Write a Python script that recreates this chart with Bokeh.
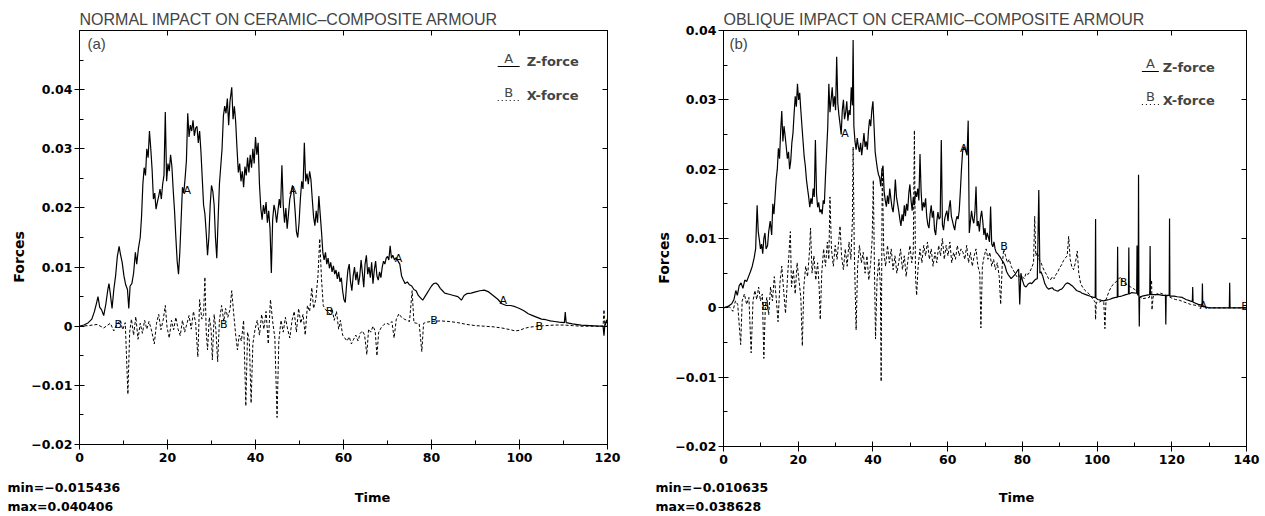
import numpy as np
from bokeh.plotting import figure
from bokeh.layouts import row, column
from bokeh.models import Range1d, LinearAxis, FixedTicker, Label
from bokeh.embed import file_html
from bokeh.resources import INLINE
from bokeh.core.properties import value

# ---------------- data ----------------
titles = ["NORMAL IMPACT ON CERAMIC–COMPOSITE ARMOUR", "OBLIQUE IMPACT ON CERAMIC–COMPOSITE ARMOUR"]
tags = ["(a)", "(b)"]
series_names = ["Z-force", "X-force"]
series_letters = ["A", "B"]
x_title = "Time"
y_title = "Forces"

x_ticks_a = [0, 20, 40, 60, 80, 100, 120]
x_minor_a = [10, 30, 50, 70, 90, 110]
x_ticks_b = [0, 20, 40, 60, 80, 100, 120, 140]
x_minor_b = [10, 30, 50, 70, 90, 110, 130]
y_ticks = [-0.02, -0.01, 0, 0.01, 0.02, 0.03, 0.04]
y_tick_labels = ["−0.02", "−0.01", "0", "0.01", "0.02", "0.03", "0.04"]
y_minor_a = [-0.015, -0.005, 0.005, 0.015, 0.025, 0.035, 0.045]
y_minor_b = [-0.015, -0.005, 0.005, 0.015, 0.025, 0.035]

# (a) normal impact: Z-force (A)
a_z = [
    (0, 0), (1.0, 0.0002), (2.0, 0.0006), (2.8, 0.0012), (3.4, 0.0025), (3.9, 0.0040), (4.2, 0.0050),
    (4.6, 0.0032), (5.0, 0.0028), (5.5, 0.0018), (6.0, 0.0038), (6.4, 0.0060), (6.7, 0.0072), (7.0, 0.0055),
    (7.4, 0.0030), (7.8, 0.0062), (8.2, 0.0085), (8.6, 0.0118), (9.0, 0.0135), (9.3, 0.0122), (9.7, 0.0108),
    (10.1, 0.0085), (10.5, 0.0070), (10.9, 0.0062), (11.2, 0.0030), (11.5, 0.0068), (11.9, 0.0072),
    (12.3, 0.0090), (12.7, 0.0125), (13.0, 0.0105), (13.4, 0.0132), (13.8, 0.0150), (14.1, 0.0185),
    (14.4, 0.0240), (14.7, 0.0268), (15.0, 0.0255), (15.3, 0.0300), (15.6, 0.0285), (15.9, 0.0330),
    (16.2, 0.0300), (16.5, 0.0265), (16.8, 0.0215), (17.1, 0.0225), (17.4, 0.0198), (17.7, 0.0210),
    (18.0, 0.0220), (18.3, 0.0232), (18.6, 0.0215), (18.9, 0.0240), (19.2, 0.0255), (19.5, 0.0362),
    (19.8, 0.0245), (20.1, 0.0275), (20.4, 0.0262), (20.7, 0.0290), (21.0, 0.0270), (21.3, 0.0230),
    (21.6, 0.0195), (21.9, 0.0150), (22.2, 0.0110), (22.5, 0.0088), (22.8, 0.0125), (23.1, 0.0180),
    (23.4, 0.0235), (23.7, 0.0225), (24.0, 0.0250), (24.3, 0.0280), (24.6, 0.0360), (24.9, 0.0320),
    (25.2, 0.0340), (25.5, 0.0330), (25.8, 0.0348), (26.1, 0.0322), (26.4, 0.0335), (26.7, 0.0338),
    (27.0, 0.0310), (27.3, 0.0330), (27.6, 0.0295), (27.9, 0.0250), (28.2, 0.0205), (28.5, 0.0190),
    (28.8, 0.0158), (29.1, 0.0120), (29.4, 0.0150), (29.7, 0.0205), (30.0, 0.0238), (30.3, 0.0228),
    (30.6, 0.0205), (30.9, 0.0150), (31.2, 0.0115), (31.5, 0.0180), (31.8, 0.0240), (32.1, 0.0270),
    (32.4, 0.0300), (32.7, 0.0355), (33.0, 0.0372), (33.3, 0.0360), (33.6, 0.0385), (33.9, 0.0340),
    (34.2, 0.0380), (34.6, 0.040406), (34.9, 0.0350), (35.2, 0.0372), (35.5, 0.0345), (35.8, 0.0300),
    (36.1, 0.0260), (36.4, 0.0275), (36.7, 0.0245), (37.0, 0.0262), (37.3, 0.0235), (37.6, 0.0270),
    (37.9, 0.0255), (38.2, 0.0285), (38.5, 0.0260), (38.8, 0.0290), (39.1, 0.0268), (39.4, 0.0300),
    (39.7, 0.0275), (40.0, 0.0320), (40.3, 0.0290), (40.6, 0.0310), (40.9, 0.0240), (41.2, 0.0200),
    (41.5, 0.0180), (41.8, 0.0205), (42.1, 0.0190), (42.4, 0.0210), (42.7, 0.0175), (43.0, 0.0195),
    (43.3, 0.0165), (43.6, 0.0090), (43.9, 0.0180), (44.2, 0.0205), (44.5, 0.0195), (44.8, 0.0175),
    (45.1, 0.0195), (45.4, 0.0215), (45.7, 0.0200), (46.0, 0.0272), (46.3, 0.0205), (46.6, 0.0175),
    (46.9, 0.0200), (47.2, 0.0165), (47.5, 0.0190), (47.8, 0.0215), (48.1, 0.0225), (48.4, 0.0238),
    (48.7, 0.0225), (49.0, 0.0195), (49.3, 0.0160), (49.6, 0.0150), (49.9, 0.0175), (50.2, 0.0215),
    (50.5, 0.0245), (50.8, 0.0232), (51.1, 0.0310), (51.4, 0.0245), (51.7, 0.0258), (52.0, 0.0240),
    (52.3, 0.0262), (52.6, 0.0248), (52.9, 0.0215), (53.2, 0.0185), (53.5, 0.0170), (53.8, 0.0195),
    (54.1, 0.0175), (54.4, 0.0220), (54.7, 0.0190), (55.0, 0.0160), (55.3, 0.0125), (55.6, 0.0112),
    (55.9, 0.0125), (56.2, 0.0105), (56.5, 0.0115), (56.8, 0.0098), (57.1, 0.0108), (57.4, 0.0092),
    (57.7, 0.0102), (58.0, 0.0088), (58.3, 0.0095), (58.6, 0.0080), (58.9, 0.0092), (59.2, 0.0075),
    (59.5, 0.0082), (59.8, 0.0060), (60.1, 0.0045), (60.4, 0.0040), (60.7, 0.0070), (61.0, 0.0095),
    (61.3, 0.0105), (61.6, 0.0075), (61.9, 0.0060), (62.2, 0.0085), (62.5, 0.0100), (62.8, 0.0078),
    (63.1, 0.0092), (63.4, 0.0070), (63.7, 0.0085), (64.0, 0.0112), (64.3, 0.0090), (64.6, 0.0066),
    (64.9, 0.0105), (65.2, 0.0120), (65.5, 0.0088), (65.8, 0.0100), (66.1, 0.0082), (66.4, 0.0108),
    (66.7, 0.0072), (67.0, 0.0095), (67.3, 0.0110), (67.6, 0.0085), (67.9, 0.0078), (68.2, 0.0092),
    (68.5, 0.0082), (68.8, 0.0100), (69.1, 0.0110), (69.4, 0.0105), (69.7, 0.0115), (70.0, 0.0118),
    (70.3, 0.0112), (70.6, 0.0136), (70.9, 0.0115), (71.2, 0.0120), (71.6, 0.0112), (72.0, 0.0116),
    (72.4, 0.0110), (72.8, 0.0105), (73.2, 0.0085), (73.6, 0.0078), (74.0, 0.0072), (74.5, 0.0075),
    (75.0, 0.0070), (75.5, 0.0068), (76.0, 0.0062), (76.5, 0.0060), (77.0, 0.0052), (77.5, 0.0048),
    (78.0, 0.0044), (78.5, 0.0050), (79.0, 0.0056), (79.5, 0.0062), (80.0, 0.0068), (80.5, 0.0072),
    (81.0, 0.0073), (81.5, 0.0070), (82.0, 0.0064), (82.5, 0.0060), (83.0, 0.0056), (84.0, 0.0054),
    (85.0, 0.0052), (86.0, 0.0050), (86.8, 0.0044), (87.4, 0.0052), (88.0, 0.0055), (89.0, 0.0056),
    (90.0, 0.0058), (91.0, 0.0060), (92.0, 0.0061), (93.0, 0.0058), (94.0, 0.0052), (95.0, 0.0046),
    (96.0, 0.0038), (97.0, 0.0035), (98.0, 0.0035), (99.0, 0.0033), (100.0, 0.0030), (101.0, 0.0026),
    (102.0, 0.0021), (103.0, 0.0018), (104.0, 0.0015), (105.0, 0.0012), (106.0, 0.0011), (107.0, 0.0009),
    (108.0, 0.0008), (109.0, 0.0007), (110.2, 0.0006), (110.4, 0.0024), (110.6, 0.0006), (112.0, 0.0004),
    (114.0, 0.0002), (116.0, 0.0001), (118.0, 0.0000), (119.0, 0.0000), (119.2, -0.0016), (119.4, 0.0002),
    (119.8, 0.0010), (120.0, 0.0008),
]

# (a) normal impact: X-force (B)
a_x = [
    (0, 0), (2, 0.0001), (4, 0.0003), (5.5, -0.0003), (7, 0.0005), (7.8, -0.0008), (8.5, 0.0004),
    (9.3, 0.0010), (9.8, -0.0006), (10.4, 0.0006), (11.0, -0.0115), (11.4, -0.0010), (11.8, 0.0012),
    (12.3, -0.0015), (12.8, 0.0016), (13.3, -0.0022), (13.8, 0.0005), (14.3, -0.0012), (14.8, 0.0010),
    (15.3, -0.0005), (15.8, 0.0008), (16.4, -0.0008), (17.0, -0.0030), (17.5, 0.0005), (18.0, 0.0020),
    (18.5, -0.0006), (19.0, 0.0010), (19.5, 0.0035), (19.9, -0.0002), (20.4, -0.0020), (20.9, 0.0010),
    (21.4, -0.0006), (21.9, 0.0015), (22.4, -0.0005), (22.9, -0.0016), (23.4, 0.0010), (23.9, -0.0010),
    (24.4, 0.0004), (24.9, 0.0018), (25.4, -0.0005), (25.9, 0.0025), (26.4, 0.0005), (26.9, -0.0052),
    (27.3, 0.0045), (27.8, 0.0012), (28.2, 0.0020), (28.5, 0.0083), (28.8, -0.0010), (29.1, -0.0040),
    (29.5, 0.0015), (29.9, -0.0005), (30.2, -0.0057), (30.6, 0.0020), (31.0, -0.0006), (31.4, -0.0060),
    (31.8, 0.0010), (32.3, 0.0035), (32.8, 0.0008), (33.2, 0.0030), (33.7, 0.0015), (34.2, 0.0028),
    (34.6, 0.0060), (35.0, 0.0025), (35.5, -0.0015), (35.9, -0.0040), (36.3, -0.0015), (36.8, -0.0025),
    (37.3, 0.0010), (37.8, -0.0135), (38.2, -0.0010), (38.6, -0.0025), (39.0, -0.0130), (39.4, -0.0030),
    (39.9, -0.0005), (40.4, 0.0010), (40.9, -0.0015), (41.4, 0.0020), (41.9, -0.0005), (42.4, 0.0025),
    (42.9, -0.0030), (43.4, 0.0045), (43.9, 0.0008), (44.4, -0.0020), (44.9, -0.015436), (45.3, -0.0025),
    (45.8, 0.0010), (46.3, -0.0010), (46.8, 0.0015), (47.3, -0.0005), (47.8, -0.0020), (48.3, 0.0010),
    (48.8, 0.0025), (49.3, -0.0010), (49.8, 0.0030), (50.3, 0.0005), (50.8, 0.0020), (51.3, -0.0015),
    (51.8, 0.0035), (52.3, 0.0025), (52.8, 0.0065), (53.2, 0.0030), (53.7, 0.0045), (54.2, 0.0085),
    (54.6, 0.0148), (55.0, 0.0080), (55.4, 0.0035), (55.9, 0.0028), (56.4, 0.0025), (56.9, 0.0020),
    (57.4, 0.0030), (57.9, 0.0010), (58.4, 0.0025), (58.9, -0.0005), (59.3, 0.0010), (59.8, -0.0015),
    (60.3, -0.0020), (60.8, -0.0025), (61.3, -0.0018), (61.8, -0.0030), (62.3, -0.0022), (62.8, -0.0015),
    (63.3, -0.0025), (63.8, -0.0012), (64.3, -0.0008), (64.8, -0.0015), (65.3, -0.0048), (65.7, -0.0005),
    (66.2, -0.0010), (66.7, 0.0000), (67.2, -0.0008), (67.6, -0.0050), (68.0, -0.0010), (68.6, -0.0002),
    (69.2, 0.0003), (69.8, 0.0005), (70.4, 0.0003), (71.0, 0.0008), (71.5, -0.0020), (72.0, 0.0012),
    (72.6, 0.0021), (73.2, 0.0015), (73.8, 0.0012), (74.4, 0.0010), (75.0, 0.0008), (75.6, 0.0060),
    (76.0, 0.0006), (76.6, 0.0005), (77.2, 0.0004), (77.8, -0.0043), (78.2, 0.0005), (79.0, 0.0007),
    (80.0, 0.0008), (82.0, 0.0009), (84.0, 0.0008), (86.0, 0.0006), (88.0, 0.0003), (90.0, 0.0001),
    (92.0, 0.0000), (94.0, -0.0001), (96.0, -0.0003), (98.0, -0.0006), (99.0, -0.0008), (100.0, -0.0007),
    (101.0, -0.0004), (102.0, -0.0002), (104.0, 0.0000), (106.0, 0.0001), (108.0, 0.0002), (110.0, 0.0002),
    (112.0, 0.0001), (114.0, 0.0000), (116.0, 0.0000), (118.0, 0.0000), (119.0, 0.0000), (119.2, 0.0028),
    (119.4, 0.0000), (120.0, 0.0000),
]

# (b) oblique impact: Z-force (A)
b_z = [
    (0, 0), (1.2, 0.0002), (2.2, 0.0006), (2.8, 0.0012), (3.3, 0.0025), (3.7, 0.0018), (4.2, 0.0032),
    (4.7, 0.0036), (5.2, 0.0028), (5.7, 0.0040), (6.2, 0.0038), (6.7, 0.0045), (7.2, 0.0052), (7.7, 0.0060),
    (8.2, 0.0072), (8.6, 0.0085), (9.0, 0.0148), (9.3, 0.0110), (9.6, 0.0098), (9.9, 0.0085), (10.2, 0.0092),
    (10.5, 0.0078), (10.8, 0.0100), (11.1, 0.0108), (11.4, 0.0085), (11.8, 0.0090), (12.1, 0.0110),
    (12.5, 0.0125), (12.9, 0.0105), (13.2, 0.0150), (13.5, 0.0135), (13.8, 0.0160), (14.1, 0.0185),
    (14.4, 0.0200), (14.7, 0.0230), (15.0, 0.0215), (15.3, 0.0255), (15.6, 0.0284), (15.9, 0.0240),
    (16.2, 0.0262), (16.5, 0.0248), (16.8, 0.0232), (17.1, 0.0215), (17.4, 0.0225), (17.7, 0.0200),
    (18.0, 0.0212), (18.3, 0.0238), (18.6, 0.0252), (18.9, 0.0280), (19.2, 0.0305), (19.5, 0.0290),
    (19.8, 0.0323), (20.1, 0.0300), (20.4, 0.0310), (20.7, 0.0285), (21.0, 0.0262), (21.3, 0.0240),
    (21.6, 0.0218), (21.9, 0.0205), (22.2, 0.0185), (22.5, 0.0172), (22.8, 0.0160), (23.1, 0.0145),
    (23.4, 0.0158), (23.7, 0.0150), (24.0, 0.0172), (24.3, 0.0160), (24.6, 0.0242), (24.9, 0.0165),
    (25.2, 0.0145), (25.5, 0.0152), (25.8, 0.0138), (26.1, 0.0142), (26.4, 0.0135), (26.7, 0.0155),
    (27.0, 0.0150), (27.3, 0.0190), (27.6, 0.0225), (27.9, 0.0260), (28.2, 0.0323), (28.5, 0.0282),
    (28.8, 0.0300), (29.1, 0.0318), (29.4, 0.0290), (29.7, 0.0305), (30.0, 0.0285), (30.3, 0.0362),
    (30.6, 0.0295), (30.9, 0.0278), (31.2, 0.0265), (31.5, 0.0250), (31.8, 0.0285), (32.1, 0.0300),
    (32.4, 0.0272), (32.7, 0.0282), (33.0, 0.0298), (33.3, 0.0270), (33.6, 0.0285), (33.9, 0.0278),
    (34.2, 0.0318), (34.5, 0.0292), (34.7, 0.038628), (34.9, 0.0262), (35.2, 0.0240), (35.5, 0.0228),
    (35.8, 0.0245), (36.1, 0.0232), (36.4, 0.0225), (36.7, 0.0238), (37.0, 0.0220), (37.3, 0.0235),
    (37.6, 0.0252), (37.9, 0.0232), (38.2, 0.0240), (38.5, 0.0228), (38.8, 0.0255), (39.1, 0.0272),
    (39.4, 0.0262), (39.7, 0.0285), (40.0, 0.0298), (40.3, 0.0262), (40.6, 0.0225), (40.9, 0.0212),
    (41.2, 0.0200), (41.5, 0.0192), (41.8, 0.0188), (42.1, 0.0175), (42.4, 0.0198), (42.7, 0.0205),
    (43.0, 0.0168), (43.3, 0.0155), (43.6, 0.0146), (43.9, 0.0162), (44.2, 0.0150), (44.5, 0.0172),
    (44.8, 0.0158), (45.1, 0.0145), (45.4, 0.0138), (45.7, 0.0155), (46.0, 0.0185), (46.3, 0.0160),
    (46.6, 0.0150), (46.9, 0.0140), (47.2, 0.0128), (47.5, 0.0118), (47.8, 0.0135), (48.1, 0.0125),
    (48.4, 0.0148), (48.7, 0.0132), (49.0, 0.0150), (49.3, 0.0140), (49.6, 0.0165), (49.9, 0.0178),
    (50.2, 0.0155), (50.5, 0.0140), (50.8, 0.0160), (51.1, 0.0148), (51.4, 0.0168), (51.7, 0.0160),
    (52.0, 0.0172), (52.3, 0.0155), (52.6, 0.0222), (52.9, 0.0168), (53.2, 0.0140), (53.5, 0.0152),
    (53.8, 0.0145), (54.1, 0.0158), (54.4, 0.0132), (54.7, 0.0120), (55.0, 0.0115), (55.3, 0.0135),
    (55.6, 0.0148), (55.9, 0.0130), (56.2, 0.0140), (56.5, 0.0112), (56.8, 0.0105), (57.1, 0.0125),
    (57.4, 0.0138), (57.7, 0.0128), (58.0, 0.0130), (58.3, 0.0242), (58.6, 0.0120), (58.9, 0.0112),
    (59.2, 0.0128), (59.5, 0.0135), (59.8, 0.0140), (60.1, 0.0125), (60.4, 0.0145), (60.7, 0.0155),
    (61.0, 0.0132), (61.3, 0.0125), (61.6, 0.0118), (61.9, 0.0112), (62.2, 0.0125), (62.5, 0.0132),
    (62.8, 0.0128), (63.1, 0.0140), (63.4, 0.0168), (63.7, 0.0200), (64.0, 0.0225), (64.3, 0.0232),
    (64.6, 0.0230), (64.9, 0.0225), (65.2, 0.0220), (65.5, 0.0270), (65.8, 0.0108), (66.1, 0.0125),
    (66.4, 0.0140), (66.7, 0.0128), (67.0, 0.0122), (67.3, 0.0138), (67.6, 0.0175), (67.9, 0.0118),
    (68.2, 0.0125), (68.5, 0.0110), (68.8, 0.0130), (69.1, 0.0140), (69.4, 0.0125), (69.7, 0.0105),
    (70.0, 0.0115), (70.3, 0.0098), (70.6, 0.0108), (70.9, 0.0102), (71.2, 0.0095), (71.5, 0.0146),
    (71.8, 0.0092), (72.1, 0.0088), (72.4, 0.0095), (72.7, 0.0085), (73.0, 0.0080), (73.4, 0.0078),
    (73.8, 0.0075), (74.2, 0.0072), (74.6, 0.0068), (75.0, 0.0065), (75.4, 0.0060), (75.8, 0.0052),
    (76.2, 0.0048), (76.6, 0.0045), (77.0, 0.0042), (77.5, 0.0045), (78.0, 0.0048), (78.5, 0.0052),
    (79.0, 0.0056), (79.3, 0.0005), (79.6, 0.0050), (80.0, 0.0040), (80.5, 0.0032), (81.0, 0.0030),
    (81.5, 0.0034), (82.0, 0.0036), (82.5, 0.0035), (83.0, 0.0038), (83.5, 0.0041), (84.0, 0.0042),
    (84.4, 0.0170), (84.7, 0.0050), (85.0, 0.0052), (85.5, 0.0045), (86.0, 0.0035), (86.5, 0.0030),
    (87.0, 0.0027), (87.5, 0.0028), (88.0, 0.0029), (88.5, 0.0026), (89.0, 0.0025), (89.5, 0.0024),
    (90.0, 0.0026), (90.5, 0.0027), (91.0, 0.0030), (91.5, 0.0034), (92.0, 0.0036), (92.5, 0.0035),
    (93.0, 0.0033), (93.5, 0.0031), (94.0, 0.0028), (94.5, 0.0025), (95.0, 0.0024), (95.5, 0.0023),
    (96.0, 0.0021), (97.0, 0.0019), (98.0, 0.0017), (99.0, 0.0015), (99.5, 0.0015), (99.6, 0.0128),
    (99.7, 0.0014), (100.2, 0.0012), (101.0, 0.0011), (101.7, 0.0010), (102.5, 0.0011), (103.3, 0.0012),
    (104.2, 0.0014), (105.0, 0.0015), (105.4, 0.0015), (105.5, 0.0088), (105.6, 0.0016), (106.6, 0.0017),
    (107.7, 0.0019), (108.4, 0.0020), (108.5, 0.0087), (108.6, 0.0020), (109.3, 0.0022), (110.6, 0.0021),
    (110.7, 0.0090), (110.8, 0.0020), (111.0, 0.0018), (111.1, 0.0192), (111.2, 0.0016), (111.3, -0.0027),
    (111.4, 0.0015), (112.1, 0.0017), (113.0, 0.0018), (114.1, 0.0019), (114.2, 0.0089), (114.3, 0.0019),
    (115.2, 0.0019), (116.5, 0.0019), (117.5, 0.0018), (118.3, 0.0018), (118.4, -0.0024), (118.5, 0.0018),
    (119.3, 0.0018), (119.4, 0.0129), (119.5, 0.0017), (120.6, 0.0017), (121.5, 0.0016), (122.8, 0.0015),
    (123.8, 0.0012), (124.9, 0.0010), (125.5, 0.0009), (125.6, 0.0030), (125.7, 0.0008), (127.1, 0.0005),
    (128.1, 0.0004), (128.2, 0.0035), (128.3, 0.0003), (129.2, 0.0001), (130.0, 0.0000), (132.0, 0.0000),
    (134.0, 0.0000), (135.4, 0.0000), (135.5, 0.0036), (135.6, 0.0000), (137.0, 0.0000), (140.0, 0.0000),
]

# (b) oblique impact: X-force (B)
b_x = [
    (0, 0), (1.5, 0.0002), (2.5, -0.0005), (3.2, 0.0010), (3.8, 0.0005), (4.6, -0.0053), (5.0, 0.0010),
    (5.6, 0.0020), (6.2, 0.0005), (6.8, 0.0015), (7.4, -0.0065), (7.9, 0.0010), (8.4, 0.0025), (8.9, 0.0012),
    (9.4, 0.0030), (9.9, 0.0010), (10.4, 0.0020), (10.8, -0.0073), (11.2, 0.0002), (11.6, 0.0015),
    (12.1, -0.0010), (12.6, 0.0030), (13.1, 0.0010), (13.6, 0.0045), (14.1, 0.0015), (14.6, -0.0020),
    (15.1, 0.0035), (15.6, 0.0060), (16.1, 0.0025), (16.6, -0.0008), (17.1, 0.0040), (17.6, 0.0085),
    (17.9, 0.0110), (18.2, 0.0030), (18.7, 0.0055), (19.2, 0.0020), (19.7, 0.0065), (20.2, 0.0040),
    (20.7, 0.0015), (21.1, -0.0055), (21.5, 0.0030), (22.0, 0.0060), (22.5, 0.0045), (23.0, 0.0080),
    (23.3, 0.0115), (23.7, 0.0050), (24.2, 0.0075), (24.7, 0.0040), (25.2, 0.0065), (25.6, 0.0030),
    (25.9, -0.0017), (26.3, 0.0050), (26.8, 0.0085), (27.3, 0.0060), (27.8, 0.0095), (28.2, 0.0070),
    (28.5, 0.0160), (28.9, 0.0085), (29.4, 0.0060), (29.9, 0.0090), (30.4, 0.0070), (30.9, 0.0100),
    (31.2, 0.0118), (31.6, 0.0075), (32.1, 0.0055), (32.6, 0.0085), (33.1, 0.0060), (33.6, 0.0095),
    (34.1, 0.0070), (34.5, 0.0125), (34.7, 0.0232), (35.0, 0.0085), (35.5, -0.0032), (35.9, 0.0060),
    (36.4, 0.0090), (36.9, 0.0065), (37.4, 0.0080), (37.9, 0.0050), (38.4, 0.0075), (38.9, 0.0040),
    (39.4, 0.0065), (39.8, 0.0100), (40.1, 0.0184), (40.4, 0.0060), (40.7, -0.0045), (41.1, 0.0040),
    (41.6, 0.0070), (42.0, 0.0030), (42.2, -0.010635), (42.5, 0.0203), (42.9, 0.0080), (43.4, 0.0060),
    (43.9, 0.0090), (44.4, 0.0065), (44.9, 0.0085), (45.4, 0.0055), (45.9, 0.0075), (46.4, 0.0050),
    (46.9, 0.0065), (47.4, 0.0085), (47.9, 0.0055), (48.4, 0.0075), (48.9, 0.0045), (49.4, 0.0070),
    (49.9, 0.0090), (50.4, 0.0065), (50.8, 0.0080), (51.1, 0.0256), (51.4, 0.0045), (51.7, 0.0018),
    (52.1, 0.0060), (52.6, 0.0085), (53.1, 0.0065), (53.6, 0.0090), (54.1, 0.0075), (54.6, 0.0095),
    (55.1, 0.0070), (55.6, 0.0085), (56.1, 0.0060), (56.6, 0.0080), (57.1, 0.0065), (57.6, 0.0090),
    (58.1, 0.0075), (58.6, 0.0100), (59.1, 0.0070), (59.6, 0.0090), (60.1, 0.0075), (60.6, 0.0095),
    (61.1, 0.0065), (61.6, 0.0080), (62.1, 0.0070), (62.6, 0.0090), (63.1, 0.0075), (63.6, 0.0085),
    (64.1, 0.0080), (64.6, 0.0070), (65.1, 0.0090), (65.6, 0.0065), (66.1, 0.0080), (66.6, 0.0060),
    (67.1, 0.0075), (67.6, 0.0085), (68.1, 0.0060), (68.6, 0.0050), (68.9, -0.0029), (69.3, 0.0060),
    (69.8, 0.0075), (70.3, 0.0085), (70.8, 0.0070), (71.3, 0.0080), (71.8, 0.0060), (72.3, 0.0070),
    (72.8, 0.0055), (73.3, 0.0065), (73.8, 0.0045), (74.2, 0.0005), (74.6, 0.0060), (75.0, 0.0085),
    (75.5, 0.0075), (76.0, 0.0065), (76.5, 0.0070), (77.0, 0.0060), (77.5, 0.0055), (78.0, 0.0050),
    (78.5, 0.0045), (79.0, 0.0048), (79.5, 0.0040), (80.0, 0.0045), (80.5, 0.0042), (81.0, 0.0050),
    (81.5, 0.0048), (82.0, 0.0052), (82.5, 0.0058), (83.0, 0.0065), (83.3, 0.0132), (83.6, 0.0075),
    (84.0, 0.0080), (84.5, 0.0070), (85.0, 0.0065), (85.5, 0.0058), (86.0, 0.0052), (86.5, 0.0048),
    (87.0, 0.0042), (87.5, 0.0040), (88.0, 0.0045), (88.5, 0.0042), (89.0, 0.0048), (89.5, 0.0052),
    (90.0, 0.0058), (90.5, 0.0062), (91.0, 0.0068), (91.5, 0.0072), (92.0, 0.0075), (92.4, 0.0103),
    (92.8, 0.0070), (93.2, 0.0060), (93.7, 0.0055), (94.2, 0.0065), (94.7, 0.0082), (95.1, 0.0050),
    (95.6, 0.0035), (96.1, 0.0030), (96.8, 0.0025), (97.4, 0.0022), (97.9, 0.0020), (98.5, 0.0015),
    (99.0, 0.0012), (99.5, 0.0008), (99.6, -0.0017), (99.8, 0.0008), (100.5, 0.0008), (101.2, 0.0010),
    (101.8, 0.0008), (102.1, -0.0030), (102.4, 0.0012), (103.3, 0.0025), (104.0, 0.0032), (104.8, 0.0036),
    (105.5, 0.0040), (106.2, 0.0044), (106.8, 0.0040), (107.4, 0.0035), (108.2, 0.0033), (109.0, 0.0030),
    (110.0, 0.0027), (111.0, 0.0020), (112.0, 0.0013), (113.0, 0.0014), (114.0, 0.0015), (114.6, 0.0040),
    (114.7, -0.0003), (115.0, 0.0016), (116.0, 0.0020), (117.0, 0.0021), (118.0, 0.0019), (119.0, 0.0017),
    (120.0, 0.0014), (121.0, 0.0012), (122.0, 0.0011), (123.0, 0.0009), (124.0, 0.0007), (125.0, 0.0005),
    (126.0, 0.0004), (127.0, 0.0003), (128.0, 0.0002), (129.0, 0.0001), (130.0, 0.0000), (135.0, 0.0000),
    (140.0, 0.0000),
]

# letter markers drawn along the curves
a_marks_A = [(24.5, 0.0230), (48.5, 0.0230), (72.5, 0.0115), (96.3, 0.0044), (120.2, 0.0008)]
a_marks_B = [(8.8, 0.0003), (32.8, 0.0003), (56.8, 0.0025), (80.6, 0.0009), (104.5, 0.0000)]
b_marks_A = [(32.5, 0.0252), (64.3, 0.0230), (128.4, 0.0003)]
b_marks_B = [(11.2, 0.0002), (75.1, 0.0089), (107.1, 0.0036), (139.6, 0.0002)]

# ---------------- layout constants (page pixels) ----------------
MAIN_H = 470
STRIP_H = 46
FRAME_TOP = 30
FONT = "DejaVu Sans"


def text_strip(width, height, items):
    """A bare figure whose data space equals its pixel space, used for texts outside the frames."""
    s = figure(width=width, height=height, x_range=Range1d(0, width), y_range=Range1d(0, height),
               output_backend="svg", toolbar_location=None, x_axis_location=None, y_axis_location=None,
               min_border=0, min_border_left=0, min_border_right=0, min_border_top=0, min_border_bottom=0)
    s.grid.visible = False
    s.outline_line_color = None
    s.border_fill_color = "white"
    s.background_fill_color = "white"
    for it in items:
        s.text([it["x"]], [height - it["y"]], text=[it["text"]], angle=it.get("angle", 0),
               text_font=value(FONT), text_font_style=it.get("style", "bold"),
               text_font_size=it.get("size", "12.5px"), text_align=it.get("align", "left"),
               text_baseline="middle", text_color="black")
    return s


def make_main(title, tag, xr, yr, xt, xm, ym, z_data, x_data, marks_A, marks_B,
              page_left, width, frame_left, frame_right, frame_bottom, lay):
    b_left = frame_left - page_left
    b_right = page_left + width - frame_right
    b_bottom = MAIN_H - frame_bottom
    p = figure(width=width, height=MAIN_H, x_range=Range1d(*xr), y_range=Range1d(*yr),
               output_backend="svg", toolbar_location=None,
               min_border_left=b_left, min_border_right=b_right,
               min_border_top=FRAME_TOP, min_border_bottom=b_bottom)
    p.grid.visible = False
    p.outline_line_color = "black"
    p.outline_line_width = 1
    p.background_fill_color = "white"
    p.border_fill_color = "white"

    frame_w = frame_right - frame_left
    frame_h = frame_bottom - FRAME_TOP

    def dx(px):
        return xr[0] + (px - frame_left) / frame_w * (xr[1] - xr[0])

    def dy(py):
        return yr[1] - (py - FRAME_TOP) / frame_h * (yr[1] - yr[0])

    # title
    p.title.text = title
    p.title.align = "left"
    p.title.text_font = "Liberation Sans"
    p.title.text_font_size = "16px"
    p.title.text_font_style = "normal"
    p.title.standoff = 6
    p.title.offset = 0

    # bottom axis
    xa = p.xaxis[0]
    xa.ticker = FixedTicker(ticks=xt, minor_ticks=xm)
    xa.major_label_overrides = {t: str(t) for t in xt}
    # left axis
    ya = p.yaxis[0]
    ya.ticker = FixedTicker(ticks=y_ticks, minor_ticks=ym)
    ya.major_label_overrides = dict(zip(y_ticks, y_tick_labels))
    for ax in (xa, ya):
        ax.major_tick_in = 5
        ax.major_tick_out = 5
        ax.minor_tick_in = 4
        ax.minor_tick_out = 0
        ax.axis_line_color = "black"
        ax.major_tick_line_color = "black"
        ax.minor_tick_line_color = "black"
        ax.major_label_text_font = FONT
        ax.major_label_text_font_style = "bold"
        ax.major_label_text_font_size = "12.5px"
        ax.major_label_text_color = "black"
    xa.major_label_standoff = 3
    ya.major_label_standoff = 2

    # top and right axes: inward ticks only, no labels
    top = LinearAxis(ticker=FixedTicker(ticks=xt, minor_ticks=[]))
    right = LinearAxis(ticker=FixedTicker(ticks=y_ticks, minor_ticks=[]))
    top.major_label_overrides = {t: "" for t in xt}
    right.major_label_overrides = {t: "" for t in y_ticks}
    for ax in (top, right):
        ax.major_tick_in = 5
        ax.major_tick_out = 0
        ax.minor_tick_in = 0
        ax.minor_tick_out = 0
        ax.major_label_text_font_size = "0px"
        ax.major_label_standoff = 0
        ax.axis_line_color = "black"
        ax.major_tick_line_color = "black"
    p.add_layout(top, "above")
    p.add_layout(right, "right")

    # curves
    zt, zv = zip(*z_data)
    xtt, xv = zip(*x_data)
    p.line(list(zt), list(zv), line_color="black", line_width=1.2)
    p.line(list(xtt), list(xv), line_color="black", line_width=1, line_dash="3 2")

    # letter markers on curves
    for marks, letter in ((marks_A, "A"), (marks_B, "B")):
        mt, mv = zip(*marks)
        p.text(list(mt), list(mv), text=[letter] * len(mt), text_font=value(FONT),
               text_font_size="11px", text_align="center", text_baseline="middle",
               text_color="black")

    # legend
    for i, (name, letter) in enumerate(zip(series_names, series_letters)):
        ly = lay["leg_line_y"][i]
        lx0, lx1 = lay["leg_line_x"]
        p.line([dx(lx0), dx(lx1)], [dy(ly), dy(ly)], line_color="black", line_width=1,
               line_dash="solid" if i == 0 else "1 3")
        p.add_layout(Label(x=dx((lx0 + lx1) / 2), y=dy(ly - 1), text=letter, text_font=FONT,
                           text_font_size="13px", text_align="center", text_baseline="bottom"))
        p.add_layout(Label(x=dx(lay["leg_text_x"]), y=dy(lay["leg_text_y"][i]), text=name,
                           text_font=FONT, text_font_style="bold", text_font_size="13px",
                           text_align="left", text_baseline="middle"))

    # panel tag
    p.add_layout(Label(x=dx(lay["tag"][0]), y=dy(lay["tag"][1]), text=tag, text_font="Liberation Sans",
                       text_font_size="15px", text_align="left", text_baseline="middle"))
    allv = list(zv) + list(xv)
    return p, min(allv), max(allv)


lay_a = dict(leg_line_x=(497, 519), leg_line_y=(66, 100), leg_text_x=526, leg_text_y=(61, 95), tag=(86, 43))
lay_b = dict(leg_line_x=(1141, 1158), leg_line_y=(71, 104), leg_text_x=1162, leg_text_y=(67, 100), tag=(727, 43))

# panel (a): page x 0..640
pa, mn_a, mx_a = make_main(titles[0], tags[0], (0, 120), (-0.02, 0.05), x_ticks_a, x_minor_a, y_minor_a,
                           a_z, a_x, a_marks_A, a_marks_B, 28, 612, 78, 607, 444, lay_a)
# panel (b): page x 640..1265
pb, mn_b, mx_b = make_main(titles[1], tags[1], (0, 140), (-0.02, 0.04), x_ticks_b, x_minor_b, y_minor_b,
                           b_z, b_x, b_marks_A, b_marks_B, 672, 593, 721, 1246, 446, lay_b)


def fmt(label, v):
    return f"{label}={v:.6f}".replace("-", "−")


ylab_a = text_strip(28, MAIN_H, [dict(x=18, y=257, text=y_title, angle=np.pi / 2, align="center", size="14px")])
ylab_b = text_strip(32, MAIN_H, [dict(x=23, y=257, text=y_title, angle=np.pi / 2, align="center", size="14px")])
bot_a = text_strip(640, STRIP_H, [dict(x=7, y=17, text=fmt("min", mn_a)),
                                  dict(x=7, y=36, text=fmt("max", mx_a)),
                                  dict(x=372, y=27, text=x_title, align="center", size="13px")])
bot_b = text_strip(625, STRIP_H, [dict(x=15, y=17, text=fmt("min", mn_b)),
                                  dict(x=15, y=36, text=fmt("max", mx_b)),
                                  dict(x=376, y=27, text=x_title, align="center", size="13px")])

layout = row(column(row(ylab_a, pa), bot_a), column(row(ylab_b, pb), bot_b))
open("out.html", "w").write(file_html(layout, INLINE))
